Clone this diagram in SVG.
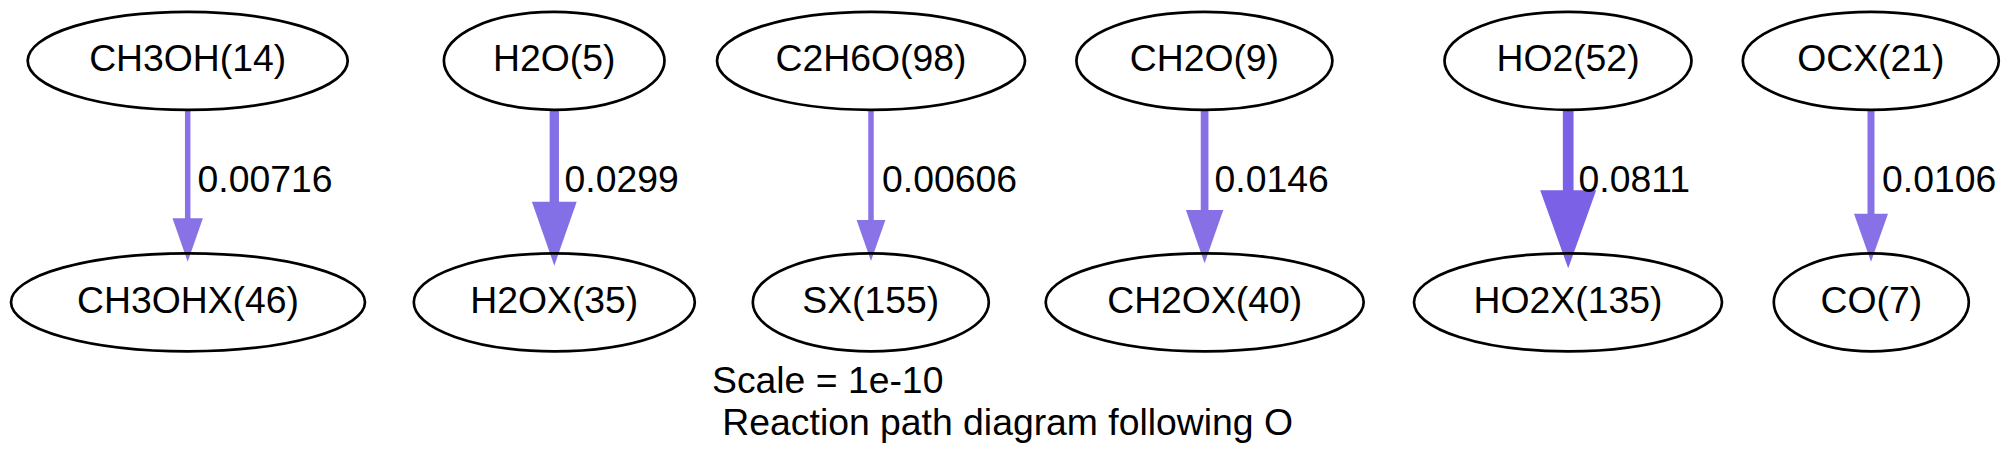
<svg xmlns="http://www.w3.org/2000/svg" width="2011" height="469" viewBox="0 0 2011 469">
<style>
  text { font-family: "Liberation Sans", Arial, Helvetica, sans-serif; font-size: 37.33px; fill: #000; }
  .node ellipse { fill: none; stroke: #000; stroke-width: 2.7; }
  .node text { text-anchor: middle; }
  .lbl { text-anchor: start; }
  .cap { text-anchor: start; }
</style>
<rect x="0" y="0" width="2011" height="469" fill="#ffffff"/>

<g id="connectors">
  <g id="e1">
    <line x1="187.7" y1="109" x2="187.7" y2="220" stroke="#8972e6" stroke-width="5.5"/>
    <polygon points="172.5,218.3 202.9,218.3 187.7,261.7" fill="#8972e6"/>
    <text class="lbl" x="197.5" y="191.7">0.00716</text>
  </g>
  <g id="e2">
    <line x1="554.3" y1="109" x2="554.3" y2="204" stroke="#8470e6" stroke-width="9.3"/>
    <polygon points="531.9,201.7 576.7,201.7 554.3,265.7" fill="#8470e6"/>
    <text class="lbl" x="564.5" y="191.7">0.0299</text>
  </g>
  <g id="e3">
    <line x1="871" y1="109" x2="871" y2="222" stroke="#8a73e6" stroke-width="5.5"/>
    <polygon points="856.6,220 885.4,220 871,261" fill="#8a73e6"/>
    <text class="lbl" x="882" y="191.7">0.00606</text>
  </g>
  <g id="e4">
    <line x1="1204.6" y1="109" x2="1204.6" y2="212" stroke="#876fe6" stroke-width="7.7"/>
    <polygon points="1185.9,210 1223.3,210 1204.6,263.3" fill="#876fe6"/>
    <text class="lbl" x="1214.5" y="191.7">0.0146</text>
  </g>
  <g id="e5">
    <line x1="1568.2" y1="109" x2="1568.2" y2="193" stroke="#7b61e6" stroke-width="10.7"/>
    <polygon points="1540.2,190.3 1596.2,190.3 1568.2,268.3" fill="#7b61e6"/>
    <text class="lbl" x="1578.5" y="191.7">0.0811</text>
  </g>
  <g id="e6">
    <line x1="1871" y1="109" x2="1871" y2="216" stroke="#8870e6" stroke-width="7"/>
    <polygon points="1854,213.7 1888,213.7 1871,261.7" fill="#8870e6"/>
    <text class="lbl" x="1882" y="191.7">0.0106</text>
  </g>
</g>

<g id="n_CH3OH14" class="node">
  <ellipse cx="187.7" cy="60.8" rx="160" ry="49"/>
  <text x="187.7" y="71.3">CH3OH(14)</text>
</g>
<g id="n_CH3OHX46" class="node">
  <ellipse cx="188" cy="302.3" rx="177" ry="49"/>
  <text x="188" y="312.8">CH3OHX(46)</text>
</g>
<g id="n_H2O5" class="node">
  <ellipse cx="554.2" cy="60.8" rx="110.3" ry="49"/>
  <text x="554.2" y="71.3">H2O(5)</text>
</g>
<g id="n_H2OX35" class="node">
  <ellipse cx="554.3" cy="302.3" rx="140.5" ry="49"/>
  <text x="554.3" y="312.8">H2OX(35)</text>
</g>
<g id="n_C2H6O98" class="node">
  <ellipse cx="871" cy="60.8" rx="154" ry="49"/>
  <text x="871" y="71.3">C2H6O(98)</text>
</g>
<g id="n_SX155" class="node">
  <ellipse cx="870.8" cy="302.3" rx="118" ry="49"/>
  <text x="870.8" y="312.8">SX(155)</text>
</g>
<g id="n_CH2O9" class="node">
  <ellipse cx="1204.4" cy="60.8" rx="128" ry="49"/>
  <text x="1204.4" y="71.3">CH2O(9)</text>
</g>
<g id="n_CH2OX40" class="node">
  <ellipse cx="1204.7" cy="302.3" rx="159" ry="49"/>
  <text x="1204.7" y="312.8">CH2OX(40)</text>
</g>
<g id="n_HO252" class="node">
  <ellipse cx="1568" cy="60.8" rx="123.5" ry="49"/>
  <text x="1568" y="71.3">HO2(52)</text>
</g>
<g id="n_HO2X135" class="node">
  <ellipse cx="1568" cy="302.3" rx="154" ry="49"/>
  <text x="1568" y="312.8">HO2X(135)</text>
</g>
<g id="n_OCX21" class="node">
  <ellipse cx="1870.8" cy="60.8" rx="128" ry="49"/>
  <text x="1870.8" y="71.3">OCX(21)</text>
</g>
<g id="n_CO7" class="node">
  <ellipse cx="1871.3" cy="302.3" rx="97.5" ry="49"/>
  <text x="1871.3" y="312.8">CO(7)</text>
</g>

<g id="caption">
  <text class="cap" x="712" y="393.3">Scale = 1e-10</text>
  <text class="cap" x="712" y="435" xml:space="preserve"> Reaction path diagram following O</text>
</g>
</svg>
